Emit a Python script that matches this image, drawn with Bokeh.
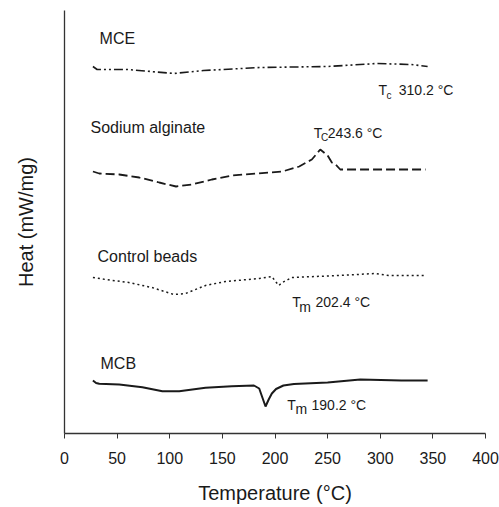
from bokeh.plotting import figure
from bokeh.models import Range1d, FixedTicker
from bokeh.core.properties import value
from bokeh.embed import file_html
from bokeh.resources import INLINE

# ---- data (temperature in °C, heat flow in arbitrary offset units) ----
mce_t = [27, 31, 60, 104, 132, 186, 250, 297, 329, 345]
mce_h = [367, 364, 364, 360, 363, 366, 367, 370, 369, 367]

sa_t = [27, 33, 52, 71, 90, 106, 121, 140, 159, 182, 207, 223, 235, 243, 250, 254, 257.5, 262, 300, 343]
sa_h = [262, 260, 259, 256, 251, 247, 249, 254, 258, 260, 262, 267, 274, 284, 278, 271, 269, 264, 264, 264]

cb_t = [27, 39, 61, 83, 104, 115, 134, 153, 185, 197, 200.5, 203.6, 207, 216, 261, 295, 308, 343]
cb_h = [156, 154, 151, 146, 139, 140, 148, 152, 155, 157, 152, 148, 151, 156, 158, 160, 158, 158]

mcb_t = [27, 30, 33, 52, 74, 93, 109, 134, 159, 180, 185, 188, 191, 194, 197, 201, 208, 218, 250, 281, 320, 345]
mcb_h = [53, 50.5, 49.7, 49, 46.3, 42.3, 42.3, 45.7, 47.3, 48, 45, 36, 27, 34, 40, 44.5, 48, 49.5, 51, 54, 53, 53]

x_ticks = [0, 50, 100, 150, 200, 250, 300, 350, 400]

FONT = "Liberation Sans"
INK = "#1a1a1a"

p = figure(width=499, height=507, output_backend="svg", toolbar_location=None,
           x_range=Range1d(0, 400), y_range=Range1d(0, 423),
           min_border_left=64, min_border_right=14, min_border_top=10, min_border_bottom=74)
p.outline_line_color = None
p.xgrid.visible = False
p.ygrid.visible = False
p.background_fill_color = "white"
p.border_fill_color = "white"

# x axis
p.xaxis.ticker = FixedTicker(ticks=x_ticks)
p.xaxis.axis_label = "Temperature (°C)"
p.xaxis.axis_label_text_font = FONT
p.xaxis.axis_label_text_font_size = "20px"
p.xaxis.axis_label_text_font_style = "normal"
p.xaxis.axis_label_text_color = INK
p.xaxis.axis_label_standoff = 15
p.xaxis.major_label_text_font = FONT
p.xaxis.major_label_text_font_size = "16px"
p.xaxis.major_label_text_color = INK
p.xaxis.major_label_standoff = 13
p.xaxis.major_tick_out = 5
p.xaxis.major_tick_in = 0
p.xaxis.minor_tick_line_color = None
p.xaxis.axis_line_color = "#333333"
p.xaxis.major_tick_line_color = "#333333"
p.xaxis.axis_line_width = 1.3

# y axis (no ticks)
p.yaxis.ticker = FixedTicker(ticks=[])
p.yaxis.major_tick_line_color = None
p.yaxis.minor_tick_line_color = None
p.yaxis.axis_label = "Heat (mW/mg)"
p.yaxis.axis_label_text_font = FONT
p.yaxis.axis_label_text_font_size = "20px"
p.yaxis.axis_label_text_font_style = "normal"
p.yaxis.axis_label_text_color = INK
p.yaxis.axis_label_standoff = 28
p.yaxis.axis_line_color = "#333333"
p.yaxis.axis_line_width = 1.3

# curves
p.line(mce_t, mce_h, line_color=INK, line_width=1.6, line_dash="9 3 2 3 2 3")
p.line(sa_t, sa_h, line_color=INK, line_width=1.8, line_dash="9 4")
p.line(cb_t, cb_h, line_color=INK, line_width=1.5, line_dash="2 3")
p.line(mcb_t, mcb_h, line_color=INK, line_width=2.0)

def txt(x, y, s, size):
    p.text(x=[x], y=[y], text=[s], text_font=value(FONT), text_font_size=size,
           text_color=INK, text_align="left", text_baseline="alphabetic")

# sample names
txt(33.3, 395, "MCE", "16px")
txt(24.7, 306, "Sodium alginate", "16px")
txt(31.4, 177, "Control beads", "16px")
txt(34.2, 70, "MCB", "16px")

# transition annotations
txt(298.3, 343.7, "T", "14px")
txt(306.0, 338.5, "c", "10px")
txt(317.6, 343.7, "310.2 °C", "14px")

txt(236.9, 300.3, "T", "14px")
txt(243.6, 296, "C", "10px")
txt(250.2, 300.3, "243.6 °C", "14px")

txt(216.3, 131.3, "T", "14px")
txt(223.0, 126.5, "m", "14px")
txt(238.5, 131.3, "202.4 °C", "14px")

txt(211.6, 28.7, "T", "14px")
txt(219.5, 24.5, "m", "14px")
txt(234.7, 28.7, "190.2 °C", "14px")

open("out.html", "w").write(file_html(p, INLINE))
